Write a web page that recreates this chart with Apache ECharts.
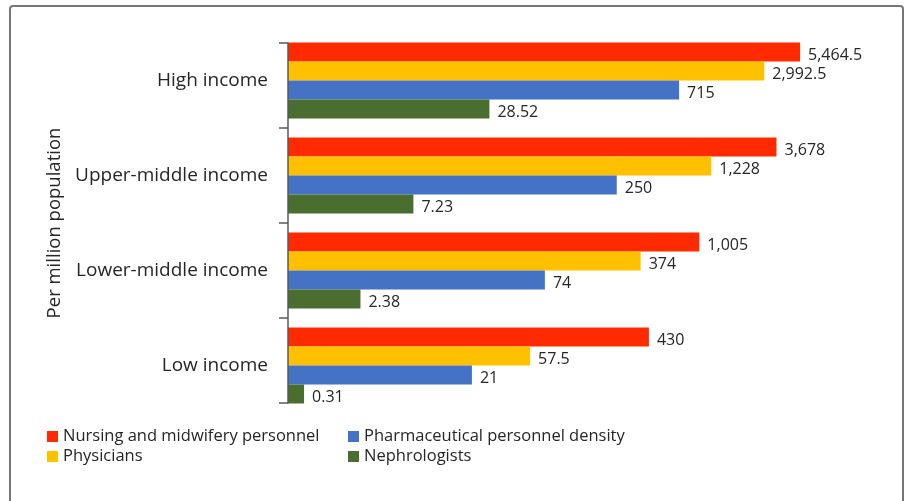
<!DOCTYPE html>
<html>
<head>
<meta charset="utf-8">
<script src="https://cdn.jsdelivr.net/npm/echarts@6/dist/echarts.min.js"></script>
<style>
html,body{margin:0;padding:0;background:#fff;}
#chart{width:908px;height:501px;}
</style>
</head>
<body>
<div id="chart"></div>
<script>
const categories = ['High income', 'Upper-middle income', 'Lower-middle income', 'Low income'];
const seriesNames = ['Nursing and midwifery personnel', 'Physicians', 'Pharmaceutical personnel density', 'Nephrologists'];
const nursing = [5464.5, 3678, 1005, 430];
const physicians = [2992.5, 1228, 374, 57.5];
const pharma = [715, 250, 74, 21];
const nephro = [28.52, 7.23, 2.38, 0.31];
const colors = ['#FF2A00', '#FFC000', '#4472C4', '#4A6E2F'];

const allValues = [nursing, physicians, pharma, nephro];
const font = 'Open Sans';
const textColor = '#262626';

// axis line trimmed to the bar groups (in category-band units)
const bandPx = 95, padPx = 10;
const pad = padPx / bandPx;
const n = categories.length;
const tickVals = [pad];
for (let i = 1; i < n; i++) tickVals.push(i);
tickVals.push(n - pad);

const series = allValues.map((vals, i) => ({
  name: seriesNames[i],
  type: 'bar',
  barWidth: 19,
  barGap: '0%',
  data: vals.map(v => 1 + v),
  itemStyle: { color: colors[i] },
  label: {
    show: true,
    position: 'right',
    distance: 8,
    offset: [0, 3],
    color: textColor,
    fontFamily: font,
    fontSize: 16,
    formatter: p => vals[p.dataIndex].toLocaleString('en-US')
  }
}));

const chart = echarts.init(document.getElementById('chart'));
chart.setOption({
  animation: false,
  backgroundColor: '#fff',
  grid: [
    { left: 288, top: 33, width: 548, height: bandPx * n, containLabel: false },
    { left: 288, top: 33 + padPx, width: 548, height: bandPx * n - 2 * padPx, containLabel: false }
  ],
  xAxis: [
    {
      type: 'log', logBase: 10, min: 1, max: 10000, gridIndex: 0,
      axisLine: { show: false }, axisTick: { show: false },
      axisLabel: { show: false }, splitLine: { show: false }
    },
    {
      type: 'value', gridIndex: 1, min: 0, max: 1,
      axisLine: { show: false }, axisTick: { show: false },
      axisLabel: { show: false }, splitLine: { show: false }
    }
  ],
  yAxis: [
    {
      type: 'category',
      gridIndex: 0,
      inverse: true,
      data: categories,
      name: 'Per million population',
      nameLocation: 'middle',
      nameGap: 220,
      nameRotate: 90,
      nameTextStyle: { fontFamily: font, fontSize: 18.5, color: textColor },
      axisLine: { show: false },
      axisTick: { show: false },
      axisLabel: { fontFamily: font, fontSize: 19, color: textColor, margin: 20 }
    },
    {
      type: 'value',
      gridIndex: 1,
      inverse: true,
      position: 'left',
      min: pad, max: n - pad,
      z: 10,
      splitLine: { show: false },
      axisLabel: { show: false },
      axisLine: { show: true, onZero: false, lineStyle: { color: '#595959', width: 1.5 } },
      axisTick: { show: true, length: 9, customValues: tickVals, lineStyle: { color: '#595959', width: 1.5 } }
    }
  ],
  legend: [
    {
      data: [seriesNames[0], seriesNames[1]],
      orient: 'vertical', left: 42, top: 423,
      itemWidth: 11, itemHeight: 11, itemGap: 3,
      icon: 'rect',
      textStyle: { fontFamily: font, fontSize: 16.5, color: textColor }
    },
    {
      data: [seriesNames[2], seriesNames[3]],
      orient: 'vertical', left: 343, top: 423,
      itemWidth: 11, itemHeight: 11, itemGap: 3,
      icon: 'rect',
      textStyle: { fontFamily: font, fontSize: 16.5, color: textColor }
    }
  ],
  graphic: [{
    type: 'rect',
    shape: { x: 10, y: 6, width: 893, height: 520, r: 3 },
    style: { fill: 'none', stroke: '#767676', lineWidth: 2 },
    silent: true
  }],
  series: series
});
</script>
</body>
</html>
